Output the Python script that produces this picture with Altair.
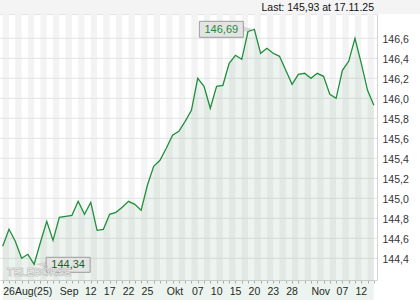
import altair as alt
import pandas as pd

# daily closing values, 26 Aug 2025 .. 17 Nov 2025 (trading days)
values = [144.52, 144.69, 144.57, 144.40, 144.44, 144.34, 144.56, 144.77, 144.58, 144.81,
          144.82, 144.83, 144.97, 144.84, 144.96, 144.68, 144.69, 144.84, 144.86, 144.91,
          144.97, 144.94, 144.88, 145.13, 145.32, 145.38, 145.50, 145.63, 145.67, 145.77,
          145.88, 146.20, 146.12, 145.90, 146.12, 146.13, 146.35, 146.43, 146.39, 146.67,
          146.69, 146.45, 146.50, 146.45, 146.42, 146.28, 146.14, 146.24, 146.25, 146.20,
          146.25, 146.22, 146.04, 146.00, 146.28, 146.37, 146.60, 146.35, 146.08, 145.93]

tick_idx = [0, 9, 13, 16, 19, 22, 26, 30, 33, 36, 39, 42, 45, 49, 53, 56]
tick_text = ["26Aug(25)", "Sep", "12", "17", "22", "25", "Okt", "07", "10", "15",
             "20", "23", "28", "Nov", "07", "12"]

y_ticks = [144.4, 144.6, 144.8, 145.0, 145.2, 145.4, 145.6, 145.8, 146.0, 146.2, 146.4, 146.6]

last_text = ["Last: 145,93 at 17.11.25"]
max_idx, max_val, max_text = [40], [146.69], ["146,69"]
min_idx, min_val, min_text = [5], [144.34], ["144,34"]
watermark = ["TELEBÖRSE"]

n = len(values)
df = pd.DataFrame({"i": list(range(n)), "v": values})
stripes = pd.DataFrame({"i": list(range(0, n - 1, 2))})
stripes["i2"] = stripes["i"] + 1
grid_df = pd.DataFrame({"v": y_ticks})
max_df = pd.DataFrame({"i": max_idx, "v": max_val, "t": max_text})
min_df = pd.DataFrame({"i": min_idx, "v": min_val, "t": min_text})

labels = [""] * n
for k, t in zip(tick_idx, tick_text):
    labels[k] = t
label_expr = "[" + ",".join("'" + t + "'" for t in labels) + "][datum.value]"

W, H = 377, 266
FONT = "Liberation Sans"
GREEN = "#1f8f3c"

xs = alt.Scale(domain=[-0.43, 59.5], nice=False, zero=False)
ys = alt.Scale(domain=[144.183, 146.843], nice=False, zero=False)

x_axis = alt.Axis(values=list(range(n)), labelExpr=label_expr, labelAlign="left",
                  labelFlush=False, labelOverlap=False, labelBound=False, grid=False,
                  tickSize=3, tickColor="#b4b4b4", domainColor="#d4d4d4", labelPadding=3,
                  labelFont=FONT, labelFontSize=10.5, labelColor="#222222", title=None)
y_axis = alt.Axis(orient="right", values=y_ticks, grid=False, ticks=False,
                  domainColor="#d4d4d4", labelPadding=5, labelFont=FONT, labelFontSize=10.5,
                  labelColor="#333333", labelAlign="left", labelBaseline="middle", labelOffset=1,
                  labelExpr="replace(format(datum.value, '.1f'), '.', ',')", title=None)


def X(f):
    return alt.X(f, type="quantitative", scale=xs, axis=x_axis)


def Y(f):
    return alt.Y(f, type="quantitative", scale=ys, axis=y_axis)


top_band = alt.Chart(pd.DataFrame({"a": [0]})).mark_rect(color="#f4f4f4", clip=False).encode(
    x=alt.value(0), x2=alt.value(420), y=alt.value(-14), y2=alt.value(0))
top_rule = alt.Chart(pd.DataFrame({"a": [0]})).mark_rule(color="#e2e2e2").encode(
    x=alt.value(0), x2=alt.value(W), y=alt.value(0.5))

stripe_layer = alt.Chart(stripes).mark_rect(color="#f3f3f3").encode(
    x=X("i"), x2=alt.X2("i2"), y=alt.value(0), y2=alt.value(H))

grid_layer = alt.Chart(grid_df).mark_rule(color="#e3e3e3", strokeWidth=1).encode(
    y=Y("v"), x=alt.value(0), x2=alt.value(W))

area = alt.Chart(df).mark_area(color="#3a8a4a", opacity=0.09).encode(
    x=X("i"), y=Y("v"), y2=alt.value(H))

line = alt.Chart(df).mark_line(color=GREEN, strokeWidth=1.3).encode(x=X("i"), y=Y("v"))

box_style = dict(fill="#e4e4e4", stroke="#9c9c9c", strokeWidth=1)

max_wedge = alt.Chart(max_df).mark_point(shape="M-1,-0.5L1,0L-1,0.5Z", size=121, filled=True,
                                         color="#d6d6d6", opacity=1, xOffset=-6).encode(
    x=X("i"), y=Y("v"))
max_box = alt.Chart(max_df).mark_rect(xOffset=-55, x2Offset=-11, yOffset=-8, y2Offset=8,
                                      **box_style).encode(
    x=X("i"), x2=alt.X2("i"), y=Y("v"), y2=alt.Y2("v"))
max_label = alt.Chart(max_df).mark_text(dx=-33, dy=0.5, align="center", baseline="middle",
                                        font=FONT, fontSize=11, color="#1e8a38").encode(
    x=X("i"), y=Y("v"), text="t")

min_wedge = alt.Chart(min_df).mark_point(shape="M1,-0.5L-1,0L1,0.5Z", size=121, filled=True,
                                         color="#d6d6d6", opacity=1, xOffset=6).encode(
    x=X("i"), y=Y("v"))
min_box = alt.Chart(min_df).mark_rect(xOffset=12, x2Offset=56, yOffset=-7, y2Offset=8,
                                      **box_style).encode(
    x=X("i"), x2=alt.X2("i"), y=Y("v"), y2=alt.Y2("v"))
min_label = alt.Chart(min_df).mark_text(dx=34, dy=0.5, align="center", baseline="middle",
                                        font=FONT, fontSize=11, color="#1b5e2c").encode(
    x=X("i"), y=Y("v"), text="t")

wm = alt.Chart(pd.DataFrame({"t": watermark})).mark_text(
    font=FONT, fontSize=10.5, fontWeight="bold", fill="#f6f6f6", stroke="#aeaeae",
    strokeWidth=0.6, align="left", baseline="middle", opacity=0.9).encode(
    x=alt.value(7), y=alt.value(258.5), text="t")

title = alt.Chart(pd.DataFrame({"t": last_text})).mark_text(
    font=FONT, fontSize=10.5, color="#111111", align="right", baseline="alphabetic",
    clip=False).encode(x=alt.value(374), y=alt.value(-3), text="t")

chart = alt.layer(
    top_band, top_rule, stripe_layer, grid_layer, area, line,
    max_wedge, max_box, max_label, min_wedge, min_box, wm, min_label, title
).properties(
    width=W, height=H,
    padding={"left": 0, "top": 14, "right": 43, "bottom": 20},
    autosize=alt.AutoSizeParams(type="none"),
).configure_view(stroke=None)

chart.save("out.html", embed_options={"renderer": "svg", "actions": False})
